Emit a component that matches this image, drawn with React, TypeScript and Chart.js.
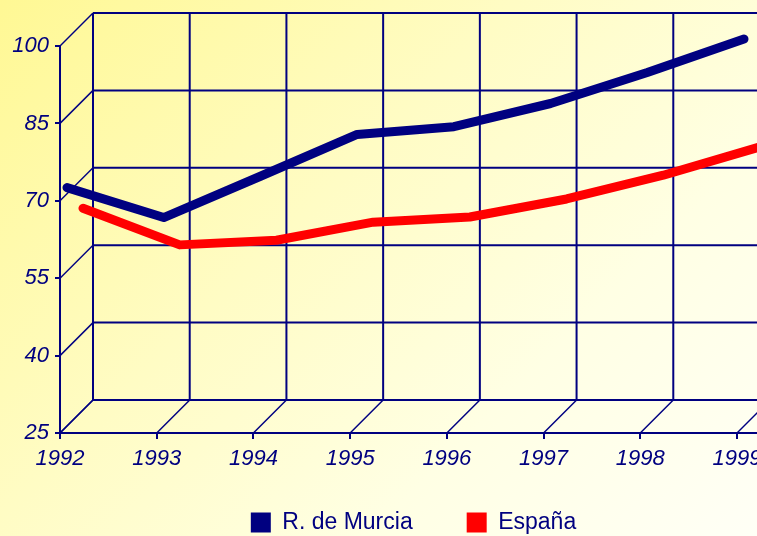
import React, { useEffect, useRef } from "react";
import { Chart, registerables } from "chart.js";

Chart.register(...registerables);

// ---- data ----
const years = ["1992", "1993", "1994", "1995", "1996", "1997", "1998", "1999"];
const murcia = [71.2, 65.4, 73.4, 81.5, 83.0, 87.5, 93.5, 100.0];
const espana = [64.1, 57.0, 57.9, 61.4, 62.4, 65.9, 70.5, 76.0];
const seriesNames = ["R. de Murcia", "España"];
const yMin = 25;
const yMax = 100;
const yStep = 15;

// ---- style ----
const NAVY = "#000080";
const RED = "#FF0000";
const DEPTH = 33;
const SERIES_DEPTH = [7, 23];
const FONT = "'Liberation Sans', Arial, sans-serif";
const LEGEND_TOP = 457;
const LEGEND_SHIFT = 15;

const grid3d = {
  id: "grid3d",
  afterLayout(chart: any) {
    const lg = chart.legend;
    if (lg) {
      lg.top = LEGEND_TOP;
      lg.bottom = chart.height;
      lg.height = chart.height - LEGEND_TOP;
      lg.left += LEGEND_SHIFT;
      lg.right += LEGEND_SHIFT;
    }
  },
  beforeDatasetsDraw(chart: any) {
    const { ctx } = chart;
    const xs = chart.scales.x;
    const ys = chart.scales.y;
    const W = chart.width;
    const n = xs.ticks.length;
    const x0 = xs.getPixelForTick(0);
    const yb = ys.getPixelForValue(yMin);
    const yt = ys.getPixelForValue(yMax);
    ctx.save();
    ctx.strokeStyle = NAVY;
    ctx.lineCap = "butt";
    const line = (a: number, b: number, c: number, d: number, w: number) => {
      ctx.lineWidth = w;
      ctx.beginPath();
      ctx.moveTo(a, b);
      ctx.lineTo(c, d);
      ctx.stroke();
    };
    ys.ticks.forEach((t: any) => {
      const y = ys.getPixelForValue(t.value);
      line(x0 + DEPTH, y - DEPTH, W + 2, y - DEPTH, 2);
      line(x0, y, x0 + DEPTH, y - DEPTH, 1.5);
    });
    for (let i = 0; i < n; i++) {
      const x = xs.getPixelForTick(i);
      line(x + DEPTH, yt - DEPTH, x + DEPTH, yb - DEPTH, 2);
      line(x, yb, x + DEPTH, yb - DEPTH, 1.5);
    }
    line(x0, yb, W + 2, yb, 2);
    ctx.restore();
  },
  beforeDatasetDraw(chart: any, args: any) {
    const d = SERIES_DEPTH[args.index] || 0;
    chart.ctx.save();
    chart.ctx.translate(d, -d);
  },
  afterDatasetDraw(chart: any) {
    chart.ctx.restore();
  },
};

export default function App() {
  const ref = useRef<HTMLCanvasElement | null>(null);

  useEffect(() => {
    if (!ref.current) return;
    const tickFont = { family: FONT, size: 22, style: "italic" as const };
    const chart = new Chart(ref.current, {
      type: "line",
      data: {
        labels: years,
        datasets: [
          {
            label: seriesNames[0],
            data: murcia,
            borderColor: NAVY,
            backgroundColor: NAVY,
            borderWidth: 9,
            pointRadius: 0,
            tension: 0,
            borderCapStyle: "round",
            borderJoinStyle: "round",
            clip: false,
          },
          {
            label: seriesNames[1],
            data: espana,
            borderColor: RED,
            backgroundColor: RED,
            borderWidth: 9,
            pointRadius: 0,
            tension: 0,
            borderCapStyle: "round",
            borderJoinStyle: "round",
            clip: false,
          },
        ],
      },
      options: {
        responsive: false,
        animation: false,
        events: [],
        layout: { padding: { top: 46, right: 20, left: 0, bottom: 0 } },
        scales: {
          x: {
            type: "category",
            offset: false,
            grid: {
              display: true,
              drawOnChartArea: false,
              drawTicks: true,
              tickLength: 6,
              color: NAVY,
              lineWidth: 2,
            },
            border: { display: true, color: NAVY, width: 2 },
            ticks: {
              color: NAVY,
              font: tickFont,
              padding: 7,
              maxRotation: 0,
              minRotation: 0,
              autoSkip: false,
            },
            afterFit: (s: any) => {
              s.height = 40;
              s.paddingLeft = 0;
              s.paddingRight = 0;
            },
          },
          y: {
            min: yMin,
            max: yMax,
            grid: {
              display: true,
              drawOnChartArea: false,
              drawTicks: true,
              tickLength: 5,
              color: NAVY,
              lineWidth: 2,
            },
            border: { display: true, color: NAVY, width: 2 },
            ticks: {
              stepSize: yStep,
              color: NAVY,
              font: tickFont,
              padding: 6,
            },
            afterFit: (s: any) => {
              s.width = 60;
              s.paddingTop = 0;
              s.paddingBottom = 0;
            },
          },
        },
        plugins: {
          tooltip: { enabled: false },
          legend: {
            position: "bottom",
            fullSize: false,
            maxHeight: 63,
            labels: {
              boxWidth: 20,
              boxHeight: 20,
              padding: 54,
              color: NAVY,
              font: { family: FONT, size: 23 },
              generateLabels: (c: any) =>
                (Chart.defaults.plugins.legend.labels as any)
                  .generateLabels(c)
                  .map((l: any) => ({ ...l, lineWidth: 0, fillStyle: l.strokeStyle })),
            },
          },
        },
      } as any,
      plugins: [grid3d],
    });
    return () => chart.destroy();
  }, []);

  return (
    <div
      style={{
        position: "absolute",
        left: 0,
        top: 0,
        width: 757,
        height: 536,
        overflow: "hidden",
        background:
          "linear-gradient(135deg, #FFF894 0%, #FFFCC4 40%, #FFFFE4 70%, #FFFFF6 100%)",
      }}
    >
      <canvas ref={ref} width={757} height={536} style={{ display: "block" }} />
    </div>
  );
}
